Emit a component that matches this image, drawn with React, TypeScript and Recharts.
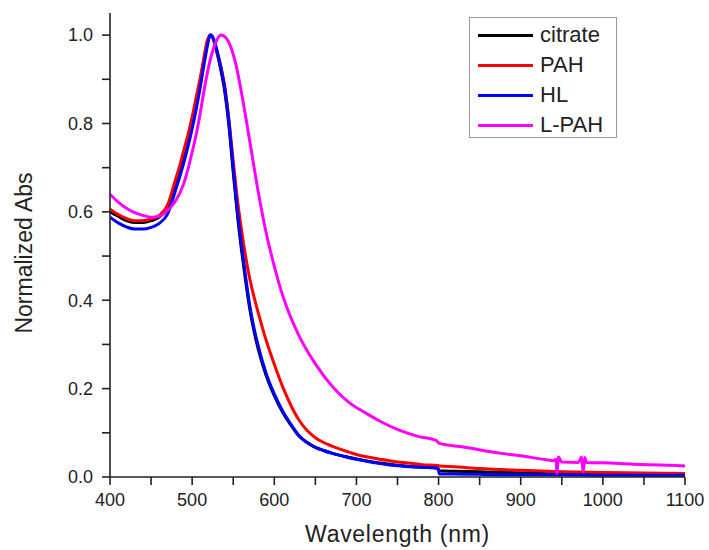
import { LineChart, Line, XAxis, YAxis, Legend } from 'recharts'

// wavelength grid shared by citrate / PAH / HL (nm)
const WL_MAIN = [
  400, 410, 420, 430, 440, 450, 460, 470, 480, 485, 490, 495, 500, 505, 510, 514, 518, 522,
  526, 530, 535, 540, 545, 550, 555, 560, 565, 570, 575, 580, 590, 600, 610, 620, 630, 640,
  650, 660, 670, 680, 690, 700, 720, 740, 760, 780, 799, 801, 820, 850, 900, 950, 1000, 1050, 1100,
]

const CITRATE = [
  0.600, 0.590, 0.580, 0.576, 0.576, 0.580, 0.588, 0.610, 0.660, 0.690, 0.720, 0.760, 0.800, 0.845, 0.895, 0.940, 0.978, 1.000,
  0.990, 0.962, 0.920, 0.868, 0.790, 0.690, 0.595, 0.515, 0.445, 0.382, 0.333, 0.293, 0.230, 0.184, 0.147, 0.118, 0.093, 0.078,
  0.067, 0.060, 0.054, 0.049, 0.045, 0.041, 0.034, 0.029, 0.025, 0.022, 0.020, 0.014, 0.013, 0.012, 0.009, 0.007, 0.006, 0.005, 0.005,
]

const PAH = [
  0.606, 0.594, 0.585, 0.580, 0.580, 0.584, 0.592, 0.615, 0.675, 0.705, 0.740, 0.775, 0.815, 0.860, 0.905, 0.945, 0.985, 1.000,
  0.990, 0.965, 0.928, 0.880, 0.805, 0.715, 0.630, 0.560, 0.500, 0.450, 0.410, 0.375, 0.310, 0.255, 0.205, 0.163, 0.129, 0.105,
  0.089, 0.078, 0.070, 0.063, 0.057, 0.051, 0.043, 0.037, 0.032, 0.028, 0.026, 0.025, 0.023, 0.019, 0.015, 0.012, 0.010, 0.009, 0.008,
]

const HL = [
  0.588, 0.575, 0.566, 0.561, 0.561, 0.565, 0.574, 0.595, 0.650, 0.680, 0.712, 0.748, 0.788, 0.833, 0.883, 0.928, 0.970, 1.000,
  0.992, 0.967, 0.927, 0.877, 0.800, 0.700, 0.605, 0.525, 0.455, 0.390, 0.340, 0.300, 0.235, 0.188, 0.150, 0.120, 0.094, 0.078,
  0.067, 0.060, 0.054, 0.049, 0.044, 0.040, 0.033, 0.027, 0.024, 0.022, 0.020, 0.007, 0.007, 0.006, 0.005, 0.005, 0.004, 0.004, 0.004,
]

// L-PAH has its own grid (detector glitches near 945 and 975 nm)
const WL_LPAH = [
  400, 410, 420, 430, 440, 450, 460, 470, 480, 490, 500, 506, 510, 515, 521, 528, 535, 542, 548, 553,
  560, 567, 575, 580, 591, 600, 606, 615, 630, 650, 671, 690, 712, 730, 752, 775, 797, 801, 830, 874,
  900, 931, 940, 943, 944, 946, 950, 970, 974, 976, 978, 980, 1000, 1037, 1070, 1100,
]

const L_PAH = [
  0.640, 0.622, 0.608, 0.598, 0.592, 0.588, 0.590, 0.603, 0.625, 0.665, 0.735, 0.785, 0.825, 0.880, 0.936, 0.980, 1.000, 0.992, 0.968, 0.936,
  0.870, 0.795, 0.705, 0.650, 0.545, 0.477, 0.436, 0.385, 0.320, 0.256, 0.204, 0.170, 0.144, 0.125, 0.106, 0.092, 0.083, 0.076, 0.068, 0.054,
  0.048, 0.039, 0.037, 0.040, 0.008, 0.045, 0.034, 0.033, 0.045, 0.012, 0.044, 0.033, 0.032, 0.029, 0.027, 0.025,
]

const X_TICKS = [400, 450, 500, 550, 600, 650, 700, 750, 800, 850, 900, 950, 1000, 1050, 1100]
const Y_TICKS = [0, 0.1, 0.2, 0.3, 0.4, 0.5, 0.6, 0.7, 0.8, 0.9, 1.0]

const SERIES = [
  { name: 'citrate', color: '#000000', wl: WL_MAIN, abs: CITRATE },
  { name: 'PAH', color: '#ff0000', wl: WL_MAIN, abs: PAH },
  { name: 'HL', color: '#0000ff', wl: WL_MAIN, abs: HL },
  { name: 'L-PAH', color: '#ff00ff', wl: WL_LPAH, abs: L_PAH },
]

const FONT = '"Liberation Sans", Arial, sans-serif'
const AXIS = '#222222'
const TEXT = '#222222'
const PLOT_LEFT = 110
const PLOT_BOTTOM = 477

const toPoints = (wl: number[], abs: number[]) => wl.map((x, i) => ({ x, y: abs[i] }))

const axisStroke = { stroke: AXIS, strokeWidth: 1.6 }

// only every second tick gets a label
function YLabelTick(props: any) {
  const v = props.payload.value as number
  if (Math.round(v * 10) % 2 !== 0) return <g />
  return (
    <text x={PLOT_LEFT - 17} y={Number(props.y)} dy="0.35em" textAnchor="end" fontSize={18} fill={TEXT} fontFamily={FONT}>
      {v.toFixed(1)}
    </text>
  )
}

function XLabelTick(props: any) {
  const v = props.payload.value as number
  if (v % 100 !== 0) return <g />
  return (
    <text x={Number(props.x)} y={PLOT_BOTTOM + 16} dy="0.72em" textAnchor="middle" fontSize={18} fill={TEXT} fontFamily={FONT}>
      {v}
    </text>
  )
}

function LegendBox() {
  return (
    <div
      style={{
        border: '1px solid #999',
        background: '#fff',
        padding: '2px 0 0 8px',
        boxSizing: 'border-box',
        width: '100%',
        height: '100%',
        fontFamily: FONT,
      }}
    >
      {SERIES.map((s) => (
        <div key={s.name} style={{ display: 'flex', alignItems: 'center', height: 30 }}>
          <span style={{ display: 'inline-block', width: 55, height: 3, background: s.color, marginRight: 7 }} />
          <span style={{ fontSize: 22, color: TEXT, lineHeight: '30px' }}>{s.name}</span>
        </div>
      ))}
    </div>
  )
}

export default function App() {
  return (
    <div style={{ position: 'absolute', left: 0, top: 0, width: 709, height: 550, background: '#fff' }}>
      <LineChart width={709} height={550} margin={{ top: 13, right: 24, bottom: 0, left: 0 }}>
        <XAxis
          type="number"
          dataKey="x"
          domain={[400, 1100]}
          ticks={X_TICKS}
          interval={0}
          allowDataOverflow
          height={550 - PLOT_BOTTOM}
          tickSize={8}
          tickLine={axisStroke}
          axisLine={axisStroke}
          tick={(p: any) => <XLabelTick {...p} />}
          label={({ viewBox }: any) => (
            <text
              x={viewBox.x + viewBox.width / 2}
              y={542}
              textAnchor="middle"
              fontSize={23}
              letterSpacing={0.7}
              fill={TEXT}
              fontFamily={FONT}
            >
              Wavelength (nm)
            </text>
          )}
        />
        <YAxis
          type="number"
          domain={[0, 1.05]}
          ticks={Y_TICKS}
          interval={0}
          allowDataOverflow
          width={PLOT_LEFT}
          tickSize={8}
          tickLine={axisStroke}
          axisLine={axisStroke}
          tick={(p: any) => <YLabelTick {...p} />}
          label={() => (
            <text
              x={32}
              y={253}
              transform="rotate(-90 32 253)"
              textAnchor="middle"
              fontSize={23}
              fill={TEXT}
              fontFamily={FONT}
            >
              Normalized Abs
            </text>
          )}
        />
        <Legend
          layout="vertical"
          align="center"
          verticalAlign="middle"
          content={<LegendBox />}
          wrapperStyle={{ position: 'absolute', left: 469, top: 17, width: 148, height: 121 }}
        />
        {SERIES.map((s) => (
          <Line
            key={s.name}
            name={s.name}
            data={toPoints(s.wl, s.abs)}
            dataKey="y"
            type="monotone"
            stroke={s.color}
            strokeWidth={3}
            dot={false}
            activeDot={false}
            isAnimationActive={false}
          />
        ))}
      </LineChart>
    </div>
  )
}
